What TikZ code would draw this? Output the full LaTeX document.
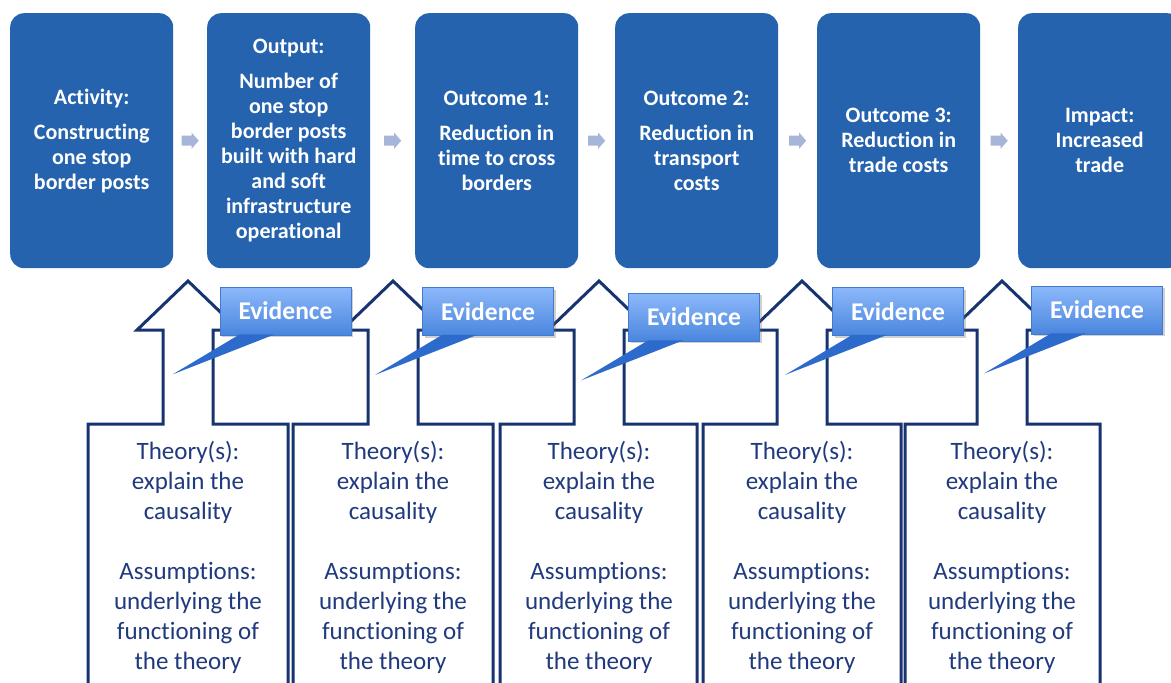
\documentclass[tikz,border=0pt]{standalone}
\usepackage{fontspec}
\setmainfont{Carlito}[Ligatures=NoCommon]
\usetikzlibrary{calc,shadows}
\definecolor{boxblue}{RGB}{37,99,174}
\definecolor{smallarrow}{RGB}{167,182,216}
\definecolor{navy}{RGB}{24,52,112}
\definecolor{textnavy}{RGB}{32,58,125}
\definecolor{evtop}{RGB}{140,184,250}
\definecolor{evbot}{RGB}{74,134,222}
\definecolor{evborder}{RGB}{66,122,205}
\definecolor{tailcol}{RGB}{44,106,204}
\tikzset{
 topbox/.style={fill=boxblue, rounded corners=14pt, minimum width=163pt, minimum height=255pt, anchor=north west, inner sep=0pt, text=white, align=center, font=\bfseries\fontsize{22}{25}\selectfont},
 flowarrow/.style={fill=smallarrow},
 theorybox/.style={draw=navy, line width=3pt, line join=miter},
 theorytext/.style={text=textnavy, align=center, font=\fontsize{25}{30}\selectfont, anchor=north, inner sep=0pt},
 evidencebox/.style={top color=evtop, bottom color=evbot, draw=evborder, line width=0.8pt, minimum width=131pt, minimum height=48pt, inner sep=0pt, text=white, font=\bfseries\fontsize{25.5}{30}\selectfont, drop shadow={shadow xshift=2pt, shadow yshift=-2pt, opacity=0.3, fill=black!60}},
 evidencetail/.style={fill=tailcol},
}
\begin{document}
\begin{tikzpicture}[x=1pt,y=-1pt]
\clip (0,0) rectangle (1171,683);
\fill[white] (0,0) rectangle (1171,683);

% top boxes
\node[topbox] (b1) at (10,13) {Activity:\\[10pt]Constructing\\one stop\\border posts};
\node[topbox] (b2) at (207,13) {Output:\\[10pt]Number of\\one stop\\border posts\\built with hard\\and soft\\infrastructure\\operational};
\node[topbox] (b3) at (415,13) {Outcome 1:\\[10pt]Reduction in\\time to cross\\borders};
\node[topbox] (b4) at (615,13) {Outcome 2:\\[10pt]Reduction in\\transport\\costs};
\node[topbox] (b5) at (817,13) {Outcome 3:\\Reduction in\\trade costs};
\node[topbox] (b6) at (1018,13) {Impact:\\Increased\\trade};

% small flow arrows
\foreach \a/\b in {b1/b2,b2/b3,b3/b4,b4/b5,b5/b6}{
  \fill[flowarrow] ($(\a.east)!0.5!(\b.west)$) ++(-8.5,-5) -- ++(10,0) -- ++(0,-3) -- ++(7,8) -- ++(-7,8) -- ++(0,-3) -- ++(-10,0) -- cycle;
}

% theory arrows (up-arrow outlines) with text
\foreach \i/\cx/\L/\R in {1/188/88/288, 2/393/293/493, 3/599/500/697, 4/802/703/901, 5/1002/905/1100}{
  \draw[theorybox] (\L,700) -- (\L,424) -- (\cx-25,424) -- (\cx-25,330) -- (\cx-51,330) -- (\cx,281) -- (\cx+51,330) -- (\cx+25,330) -- (\cx+25,424) -- (\R,424) -- (\R,700);
  \node[theorytext] (t\i) at (\cx,441) {Theory(s):\\explain the\\causality\\[30pt]Assumptions:\\underlying the\\functioning of\\the theory};
}

% evidence callouts
\foreach \i/\x/\y in {1/285.5/311, 2/488/311.5, 3/694/317, 4/898/311.5, 5/1097/310}{
  \node[evidencebox] (e\i) at (\x,\y) {Evidence};
  \fill[evidencetail] ($(e\i.south west)+(20,-1)$) -- ($(e\i.south west)+(-47,39)$) -- ($(e\i.south west)+(55,-1)$) -- cycle;
}
\end{tikzpicture}
\end{document}
